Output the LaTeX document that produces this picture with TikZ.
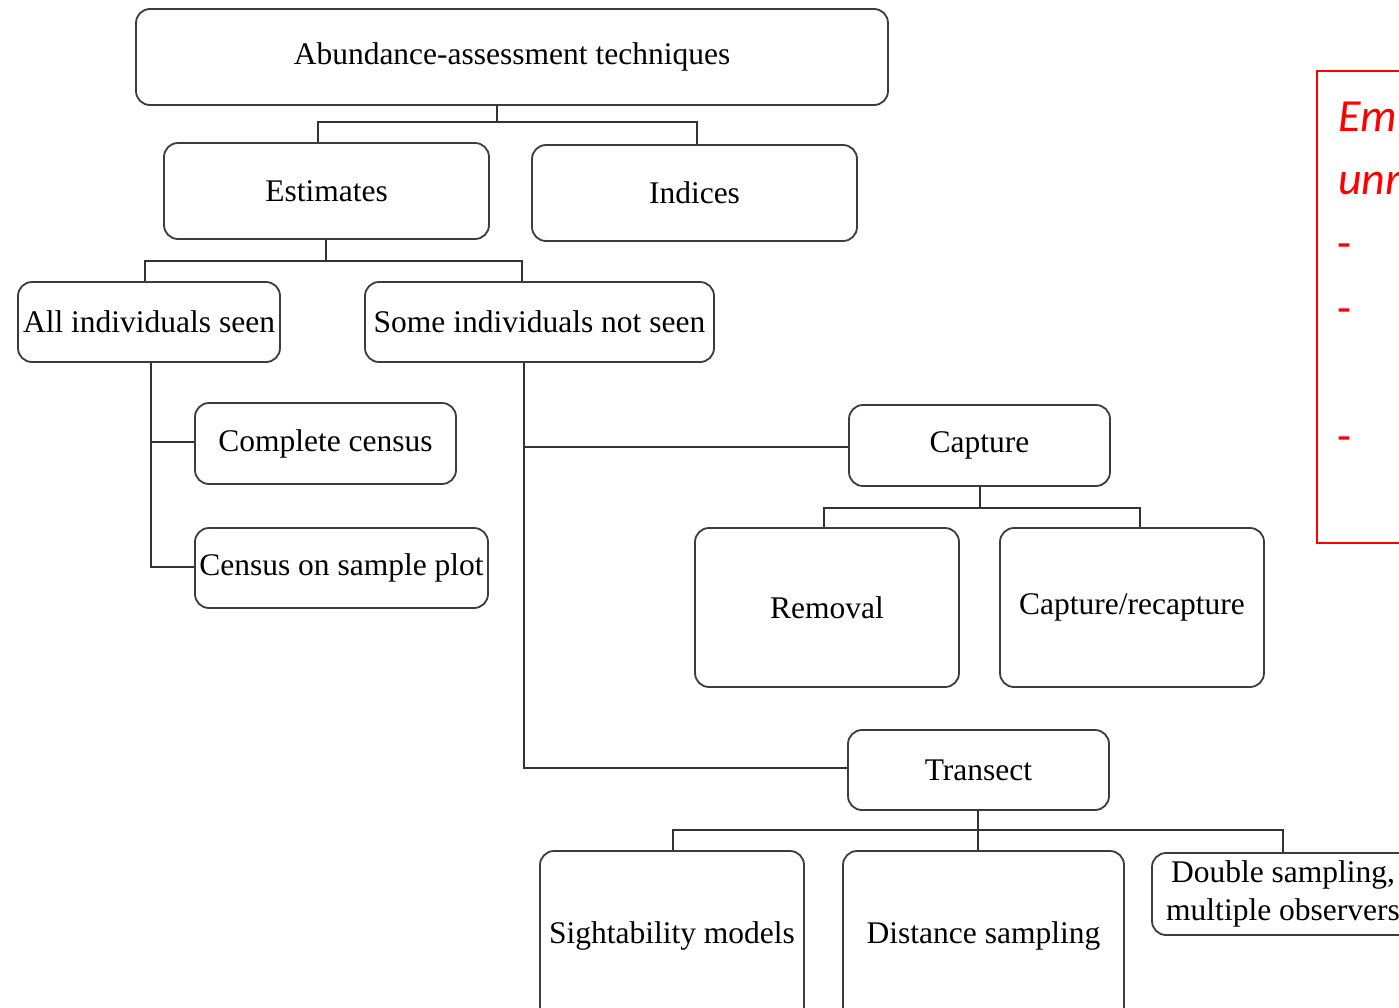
\documentclass[tikz,border=0pt]{standalone}
\usepackage{fontspec}
\setmainfont{Liberation Serif}
\newfontfamily\notefont{Carlito}
\begin{document}
\begin{tikzpicture}[x=1pt,y=-1pt]
\definecolor{boxgray}{HTML}{3C3C3C}
\definecolor{wiregray}{HTML}{333333}
\definecolor{notered}{HTML}{FF0000}
\tikzset{
  box/.style={draw=boxgray, line width=1.8pt, rounded corners=14pt, fill=white,
    inner sep=0pt, align=center, font=\fontsize{31.5}{38}\selectfont},
  wire/.style={draw=wiregray, line width=1.3pt},
  notetext/.style={text=notered, inner sep=0pt, anchor=base west,
    font=\notefont\itshape\fontsize{46}{50}\selectfont},
  notedash/.style={text=notered, inner sep=0pt, anchor=base west,
    font=\notefont\fontsize{46}{50}\selectfont}
}
\useasboundingbox (0,0) rectangle (1399,1007);
\clip (0,0) rectangle (1399,1007);

% hierarchy boxes
\node[box, minimum width=752pt, minimum height=96pt] (top) at (512,57) {Abundance-assessment techniques};
\node[box, minimum width=325pt, minimum height=96pt] (est) at (326.5,191) {Estimates};
\node[box, minimum width=325pt, minimum height=96pt] (ind) at (694.5,193) {Indices};
\node[box, minimum width=262pt, minimum height=80pt] (all) at (149,322) {All individuals seen};
\node[box, minimum width=349pt, minimum height=80pt] (some) at (539.5,322) {Some individuals not seen};
\node[box, minimum width=261pt, minimum height=81pt] (cc) at (325.5,443.5) {Complete census};
\node[box, minimum width=293pt, minimum height=80pt] (csp) at (341.5,568) {Census on sample plot};
\node[box, minimum width=261pt, minimum height=81pt] (cap) at (979.5,445.5) {Capture};
\node[box, minimum width=264pt, minimum height=159pt] (rem) at (827,607.5) {Removal};
\node[box, minimum width=264pt, minimum height=159pt] (crc) at (1132,607.5) {Capture/recapture};
\node[box, minimum width=261pt, minimum height=80pt] (tra) at (978.5,770) {Transect};
\node[box, minimum width=264pt, minimum height=170pt] (sig) at (672,936) {Sightability models};
\node[box, minimum width=281pt, minimum height=170pt] (dis) at (983.5,936) {Distance sampling};
\node[box, minimum width=262pt, minimum height=82pt] (dbl) at (1283,894) {Double sampling,\\multiple observers};

% junction points
\coordinate (t0) at (497,122);
\coordinate (t1) at (318,122);
\coordinate (t2) at (697,122);
\coordinate (e0) at (326,261);
\coordinate (e1) at (145,261);
\coordinate (e2) at (522,261);
\coordinate (a0) at (151,442);
\coordinate (a1) at (151,567);
\coordinate (s0) at (524,447);
\coordinate (s1) at (524,768);
\coordinate (c0) at (980,508);
\coordinate (c1) at (824,508);
\coordinate (c2) at (1140,508);
\coordinate (r0) at (978,830);
\coordinate (r1) at (673,830);
\coordinate (r2) at (1283,830);

% connectors
\draw[wire] (top.south -| t0) -- (t0);
\draw[wire] (est.north -| t1) -- (t1) -- (t2) -- (ind.north -| t2);
\draw[wire] (est.south -| e0) -- (e0);
\draw[wire] (all.north -| e1) -- (e1) -- (e2) -- (some.north -| e2);
\draw[wire] (all.south -| a0) -- (a1) -- (csp.west |- a1);
\draw[wire] (a0) -- (cc.west |- a0);
\draw[wire] (some.south -| s0) -- (s1) -- (tra.west |- s1);
\draw[wire] (s0) -- (cap.west |- s0);
\draw[wire] (cap.south -| c0) -- (c0);
\draw[wire] (rem.north -| c1) -- (c1) -- (c2) -- (crc.north -| c2);
\draw[wire] (tra.south -| r0) -- (dis.north -| r0);
\draw[wire] (sig.north -| r1) -- (r1) -- (r2) -- (dbl.north -| r2);

% side note
\draw[notered, line width=2pt] (1317,71) rectangle (1450,543);
\node[notetext] (n1) at (1338,131) {Em};
\node[notetext] (n2) at (1338,194) {unr};
\node[notedash] (d1) at (1337,258) {-};
\node[notedash] (d2) at (1337,323) {-};
\node[notedash] (d3) at (1337,451) {-};
\end{tikzpicture}
\end{document}
